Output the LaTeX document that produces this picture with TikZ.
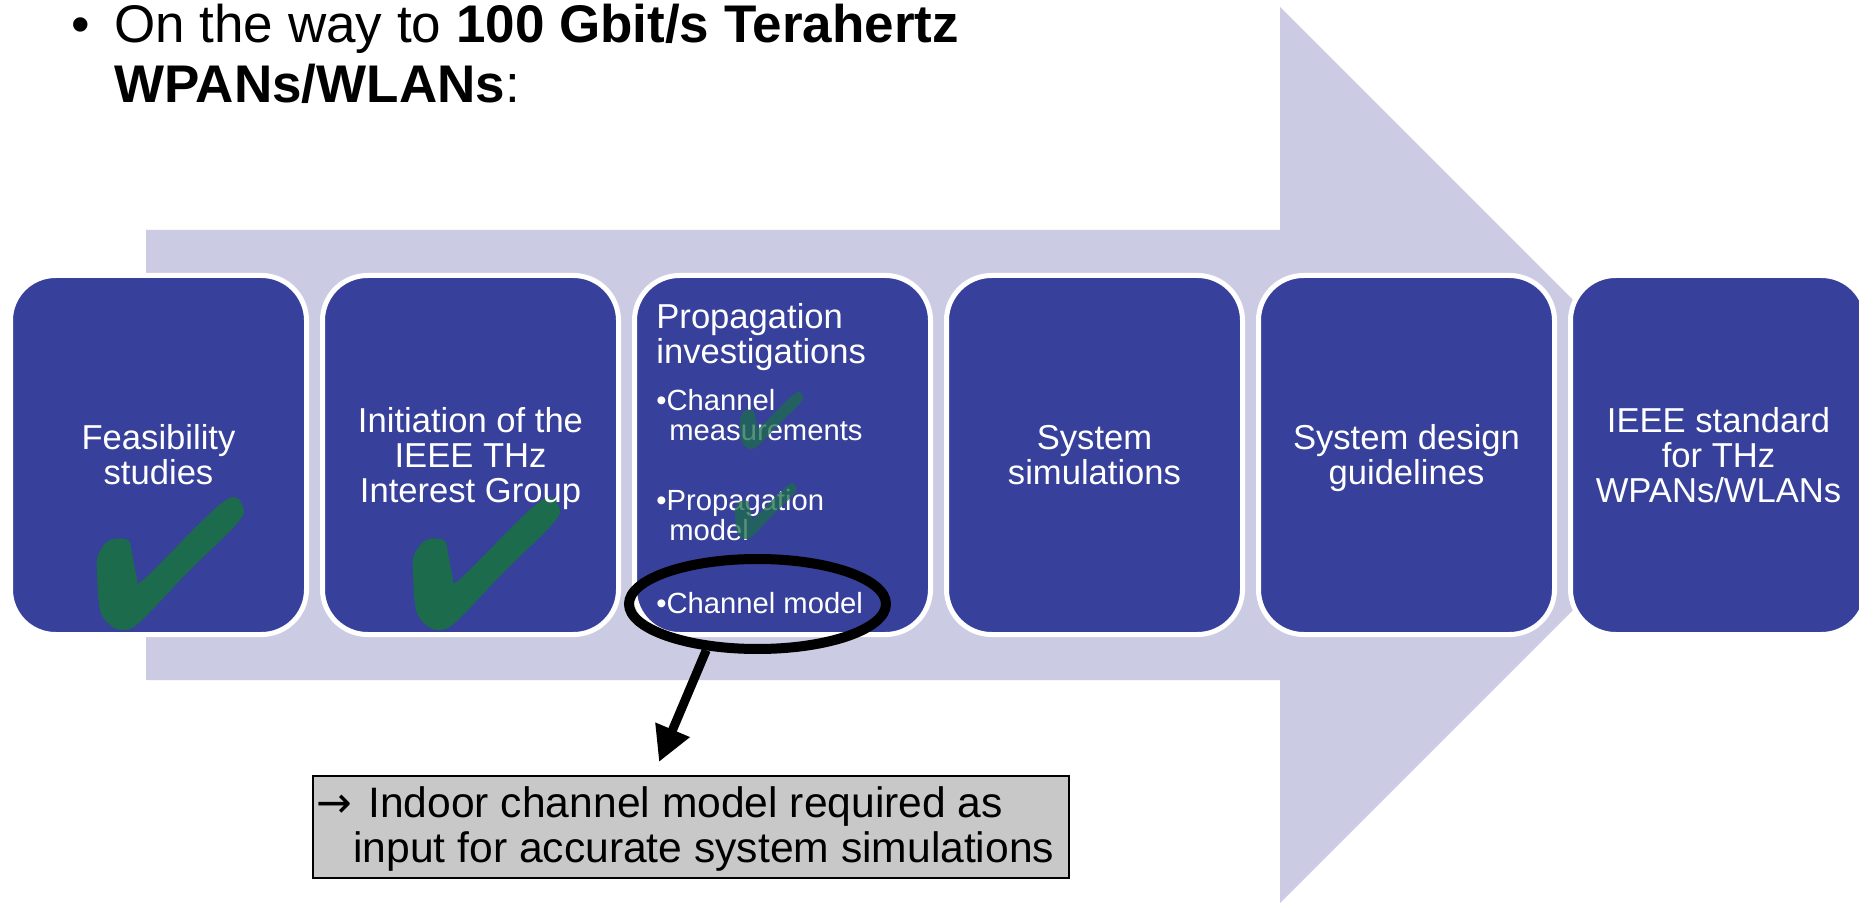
\documentclass[tikz,border=0pt]{standalone}
\usepackage{fontspec}
\setmainfont{Liberation Sans}
\newfontfamily\arrowfont{DejaVu Sans}
\usetikzlibrary{arrows.meta,shapes.geometric}
\definecolor{arrowbg}{RGB}{203,203,227}
\definecolor{boxblue}{RGB}{55,64,154}
\definecolor{checkgreen}{RGB}{29,107,77}
\definecolor{notegray}{RGB}{200,200,200}
\tikzset{
  stage/.style={rectangle, rounded corners=22.5pt, fill=boxblue, draw=white,
    line width=2.5pt, minimum width=148pt, minimum height=179.5pt, inner sep=0pt,
    text=white, align=center, font=\fontsize{17.3pt}{17.5pt}\selectfont},
  ptext/.style={anchor=base west, inner sep=0pt, text=white,
    font=\fontsize{17.3pt}{17.5pt}\selectfont},
  stext/.style={anchor=base west, inner sep=0pt, text=white,
    font=\fontsize{14.6pt}{15pt}\selectfont},
  titletext/.style={anchor=base west, inner sep=0pt, text=black,
    font=\fontsize{26.5pt}{30pt}\selectfont},
  notetext/.style={anchor=base west, inner sep=0pt, text=black,
    font=\fontsize{21.3pt}{22pt}\selectfont},
  greencheck/.pic={
    \fill[checkgreen] plot[smooth cycle, tension=0.55] coordinates {
      (31,-90) (13,-90) (1,-75) (0,-57) (3,-20) (13,-5) (26,0) (43,-8)
      (90,-57) (143,-110) (144,-127) (138,-133) (126,-128) (103,-107)
      (46,-50) (40,-53) (35,-77)};
  }
}
\begin{document}
\begin{tikzpicture}[x=0.5pt,y=-0.5pt]
\useasboundingbox (0,0) rectangle (1859,903);
\clip (0,0) rectangle (1859,903);
% big background arrow
\fill[arrowbg] (146,230) -- (1280,230) -- (1280,7) -- (1728,455)
  -- (1280,903) -- (1280,680) -- (146,680) -- cycle;
% stages
\node[stage] (b1) at (158.5,455) {Feasibility\\studies};
\node[stage] (b2) at (470.5,455) {};
\node[stage] (b3) at (782.5,455) {};
\node[stage] (b4) at (1094.5,455) {System\\simulations};
\node[stage] (b5) at (1406.5,455) {System design\\\smash{g}uidelines};
\node[stage] (b6) at (1718.5,455) {IEEE standard\\for THz\\WPANs/WLANs};
% checks in first two stages
\pic at (97,630) {greencheck};
\pic at (413,630) {greencheck};
% text of stage 2 over its check
\node[stage, fill=none, draw=none] (b2t) at (470.5,455) {Initiation of the\\IEEE THz\\Interest Grou\smash{p}};
% stage 3 text
\node[ptext] (p1) at (656,329) {Propagation};
\node[ptext] (p2) at (656,364) {investigations};
\node[stext] (s1) at (656,411) {\textbullet Channel};
\node[stext] (s2) at (669,441) {measurements};
\node[stext] (s3) at (656,511) {\textbullet Propagation};
\node[stext] (s4) at (669,541) {model};
\node[stext] (s5) at (656,613) {\textbullet Channel model};
\begin{scope}[opacity=0.75]
\pic[scale=0.43] at (740,449) {greencheck};
\pic[scale=0.42] at (735,539) {greencheck};
\end{scope}
% ellipse and arrow
\node[ellipse, draw=black, line width=5pt, minimum width=128.5pt,
  minimum height=45pt, inner sep=0pt] (ell) at (757.5,604) {};
\coordinate (tipend) at (659,762);
\draw[line width=4.5pt, -{Triangle[length=17.5pt,width=17.5pt]}] (ell.222) -- (tipend);
% note box
\node[rectangle, fill=notegray, draw=black, line width=1pt,
  minimum width=378pt, minimum height=51pt, inner sep=0pt] (note) at (691,827) {};
\node[notetext] (na) at (316,817) {\arrowfont →};
\node[notetext] (n1) at (368,817) {Indoor channel model required as};
\node[notetext] (n2) at (353,862) {input for accurate system simulations};
% title
\node[titletext] (tb) at (71,43) {\textbullet};
\node[titletext] (t1) at (114,43) {On the way to \textbf{100 Gbit/s Terahertz}};
\node[titletext] (t2) at (114,103) {\textbf{WPANs/WLANs}:};
\end{tikzpicture}
\end{document}
